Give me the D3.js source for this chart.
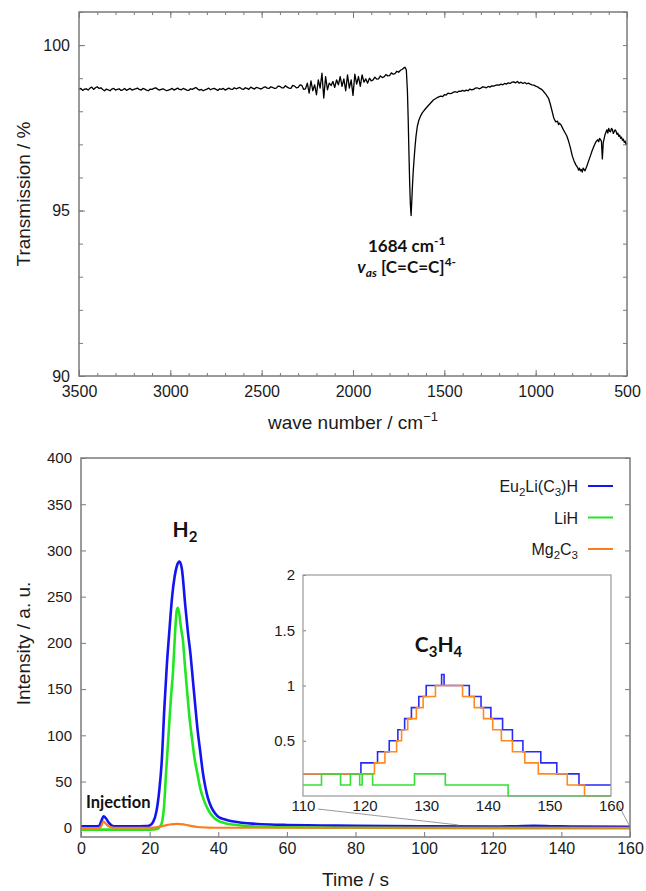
<!DOCTYPE html>
<html><head><meta charset="utf-8">
<script src="https://cdn.jsdelivr.net/npm/d3@7"></script>
<style>body{margin:0;background:#fff}svg{display:block}</style>
</head><body>
<svg id="c" width="646" height="891"></svg>
<script>
// ---------- DATA ----------
// IR spectrum: [wave number (cm-1), transmission (%)]
const irSpectrum = [
[3500,98.66],[3490,98.69],[3480,98.63],[3470,98.67],[3460,98.68],[3450,98.64],[3440,98.70],[3430,98.73],[3420,98.66],[3410,98.71],
[3400,98.74],[3390,98.69],[3380,98.71],[3370,98.66],[3360,98.62],[3350,98.67],[3340,98.65],[3330,98.62],[3320,98.67],[3310,98.69],
[3300,98.64],[3290,98.66],[3280,98.68],[3270,98.63],[3260,98.65],[3250,98.69],[3240,98.63],[3230,98.66],[3220,98.69],[3210,98.64],
[3200,98.66],[3190,98.68],[3180,98.70],[3170,98.66],[3160,98.64],[3150,98.69],[3140,98.67],[3130,98.64],[3120,98.62],[3110,98.67],
[3100,98.66],[3090,98.69],[3080,98.71],[3070,98.67],[3060,98.64],[3050,98.66],[3040,98.68],[3030,98.65],[3020,98.62],[3010,98.64],
[3000,98.66],[2990,98.69],[2980,98.64],[2970,98.67],[2960,98.70],[2950,98.66],[2940,98.65],[2930,98.69],[2920,98.67],[2910,98.64],
[2900,98.63],[2890,98.68],[2880,98.66],[2870,98.69],[2860,98.72],[2850,98.67],[2840,98.64],[2830,98.66],[2820,98.62],[2810,98.65],
[2800,98.67],[2790,98.70],[2780,98.65],[2770,98.68],[2760,98.69],[2750,98.66],[2740,98.63],[2730,98.68],[2720,98.66],[2710,98.69],
[2700,98.64],[2690,98.67],[2680,98.70],[2670,98.67],[2660,98.66],[2650,98.71],[2640,98.68],[2630,98.70],[2620,98.72],[2610,98.68],
[2600,98.66],[2590,98.71],[2580,98.69],[2570,98.66],[2560,98.73],[2550,98.70],[2540,98.67],[2530,98.72],[2520,98.71],[2510,98.68],
[2500,98.68],[2490,98.72],[2480,98.74],[2470,98.70],[2460,98.69],[2450,98.74],[2440,98.72],[2430,98.69],[2420,98.70],[2410,98.76],
[2400,98.75],[2390,98.71],[2380,98.71],[2370,98.77],[2360,98.73],[2350,98.70],[2340,98.69],[2330,98.78],[2320,98.76],[2310,98.71],
[2300,98.72],[2290,98.80],[2280,98.78],[2270,98.66],[2260,98.68],[2250,98.85],[2240,98.55],[2230,98.92],[2220,98.62],[2210,98.80],
[2200,98.50],[2190,98.95],[2180,98.70],[2170,99.15],[2160,98.40],[2150,99.05],[2140,98.65],[2130,98.85],[2120,98.78],[2110,98.90],
[2100,98.72],[2090,98.95],[2080,98.80],[2070,99.05],[2060,98.75],[2050,98.98],[2040,98.62],[2030,99.10],[2020,98.70],[2010,98.95],
[2000,98.48],[1990,99.12],[1980,98.82],[1970,99.05],[1960,98.75],[1950,99.10],[1940,98.88],[1930,98.98],[1920,98.85],[1910,99.00],
[1900,98.92],[1890,98.95],[1880,99.03],[1870,98.97],[1860,98.98],[1850,99.07],[1840,99.02],[1830,99.04],[1820,99.11],[1810,99.07],
[1800,99.08],[1790,99.16],[1780,99.12],[1770,99.14],[1760,99.21],[1750,99.18],[1740,99.24],[1730,99.27],[1722,99.31],[1715,99.33],
[1708,99.25],[1702,98.60],[1698,97.80],[1694,96.80],[1690,95.90],[1686,95.20],[1682,94.85],[1678,95.30],[1674,95.80],[1670,96.20],
[1665,96.60],[1660,96.95],[1655,97.25],[1648,97.54],[1640,97.72],[1630,97.86],[1620,97.96],[1610,98.03],[1595,98.13],[1580,98.22],
[1560,98.34],[1540,98.41],[1520,98.46],[1510,98.44],[1500,98.50],[1490,98.49],[1480,98.55],[1470,98.53],[1460,98.54],[1450,98.58],
[1440,98.59],[1430,98.57],[1420,98.61],[1410,98.60],[1400,98.63],[1390,98.61],[1380,98.64],[1370,98.62],[1360,98.67],[1350,98.65],
[1340,98.66],[1330,98.70],[1320,98.71],[1310,98.68],[1300,98.70],[1290,98.74],[1280,98.73],[1270,98.71],[1260,98.75],[1250,98.73],
[1240,98.77],[1230,98.76],[1220,98.78],[1210,98.80],[1200,98.79],[1190,98.82],[1180,98.80],[1170,98.84],[1160,98.82],[1150,98.86],
[1140,98.84],[1130,98.88],[1120,98.89],[1110,98.86],[1100,98.90],[1090,98.85],[1080,98.88],[1070,98.84],[1060,98.87],[1050,98.83],
[1040,98.85],[1030,98.82],[1020,98.80],[1010,98.79],[1000,98.76],[990,98.74],[980,98.70],[970,98.67],[960,98.62],[945,98.52],
[930,98.40],[920,98.22],[910,98.00],[900,97.78],[890,97.68],[880,97.70],[875,97.60],[870,97.64],[860,97.58],[850,97.46],
[840,97.36],[830,97.26],[820,97.10],[810,96.90],[800,96.66],[790,96.50],[780,96.38],[770,96.30],[765,96.22],[760,96.28],
[755,96.20],[750,96.24],[745,96.16],[740,96.28],[730,96.20],[720,96.34],[710,96.50],[700,96.66],[690,96.82],[680,96.96],
[670,97.08],[660,97.14],[655,97.08],[650,97.18],[640,97.10],[635,96.56],[630,97.05],[620,97.30],[610,97.44],[605,97.34],
[600,97.48],[595,97.40],[590,97.38],[585,97.48],[580,97.45],[575,97.33],[570,97.38],[565,97.44],[560,97.40],[555,97.30],
[550,97.34],[545,97.24],[540,97.28],[535,97.18],[530,97.22],[525,97.12],[520,97.16],[515,97.06],[510,97.10],[505,97.00],[500,97.04]
];
const irXTicks = [3500,3000,2500,2000,1500,1000,500];
const irYTicks = [90,95,100];

// Gas evolution: [time (s), intensity (a.u.)]
const seriesNames = ["Eu2Li(C3)H","LiH","Mg2C3"];
const eu2liH = [[0,1.5],[4,1.5],[5.3,2],[6,8],[6.6,12.5],[7.3,10],[8.2,5],[9.2,2],[10,1.5],[15,1.5],[19,1.8],[20,2.5],[21,6],[22,18],
[22.8,40],[23.5,70],[24.3,130],[25,175],[25.8,215],[26.5,248],[27.3,272],[28,284],[28.7,288],[29.4,280],[30.4,240],[31.2,210],
[31.9,188],[32.6,160],[33.3,132],[34,105],[34.8,81],[35.5,60],[36.3,43],[37,32],[38,22],[39,16],[40,12],[42,9],[44,7],[47,5.5],
[50,4.5],[55,3.5],[60,3],[70,2.5],[80,2],[100,1.5],[120,1.3],[127,1.6],[132,2],[137,1.7],[145,1.2],[160,1]];
const liH = [[0,-2],[20,-2],[22,-1.5],[23,1],[23.6,6],[24.2,23],[24.8,60],[25.5,100],[26.2,140],[26.8,168],[27.4,210],[27.9,235],
[28.2,238],[28.6,232],[29.2,215],[29.7,203],[30.3,175],[30.9,149],[31.6,120],[32.4,95],[33.1,75],[33.9,59],[34.8,42],[36,28],
[37,20],[38,14],[39,10],[40,7.5],[42,5],[44,3.5],[47,2.5],[50,1.5],[60,0.5],[80,0],[100,-0.3],[160,-0.5]];
const mg2C3 = [[0,-0.5],[5,-0.5],[5.8,1],[6.5,7],[7.3,4],[8.3,1],[9.5,0],[20,0],[22,0.5],[24,2],[26,3.5],[28,4.3],[30,3.5],
[32,2],[34,0.8],[37,0.2],[40,0],[160,0]];
const mainXTicks = [0,20,40,60,80,100,120,140,160];
const mainYTicks = [0,50,100,150,200,250,300,350,400];

// Inset (C3H4 signal), step data: [time (s), intensity]
const insetEu = [[110,0.2],[119.4,0.3],[122.1,0.4],[124.0,0.5],[125.4,0.6],[126.5,0.7],[127.6,0.8],[128.8,0.9],[130.0,1.0],
[132.5,1.1],[132.9,1.0],[137.0,0.9],[138.9,0.8],[140.5,0.7],[142.4,0.6],[144.0,0.5],[145.7,0.4],[148.6,0.3],[151.2,0.2],[154.8,0.1],[160,0.1]];
const insetMg = [[110,0.2],[121.6,0.3],[123.3,0.4],[125.2,0.5],[126.0,0.6],[127.0,0.7],[128.4,0.8],[129.5,0.9],[131.5,1.0],
[135.9,0.9],[137.8,0.8],[139.3,0.7],[140.8,0.6],[142.2,0.5],[144.0,0.4],[146.0,0.3],[148.2,0.2],[152.9,0.1],[155.7,0],[160,0]];
const insetLi = [[110,0.1],[113.0,0.2],[116.1,0.1],[117.7,0.2],[119.2,0.1],[119.6,0.2],[121.3,0.1],[128.1,0.2],[133.1,0.1],[143.3,0],[160,0]];
const insetXTicks = [110,120,130,140,150,160];
const insetYTicks = [0.5,1,1.5,2];

// ---------- DRAW ----------
(function () {
const svg = d3.select("#c");
const FONT = "'Liberation Sans', Arial, Helvetica, sans-serif";
const BOLD = "Lato, 'Open Sans', sans-serif";
const FRAME = "#7a7a7a";
const TXT = "#1a1a1a";
const BLUE = "#1414f0", GREEN = "#22e622", ORANGE = "#ff7a1a";

function styleAxis(g, size) {
  g.select(".domain").remove();
  g.selectAll(".tick line").attr("stroke", FRAME).attr("stroke-width", 1);
  g.selectAll("text").attr("font-family", FONT).attr("font-size", size).attr("fill", TXT);
}

// ===== Top chart: IR =====
const tx = d3.scaleLinear([3500, 500], [79, 627]);
const ty = d3.scaleLinear([90, 101], [376, 12]);
const topG = svg.append("g");

topG.append("g").attr("transform", `translate(0,${ty(90)})`)
  .call(d3.axisBottom(tx).tickValues(d3.range(3500, 499, -100)).tickSizeInner(-3).tickSizeOuter(0).tickFormat(""))
  .call(g => styleAxis(g, 16));
topG.append("g").attr("transform", `translate(0,${ty(101)})`)
  .call(d3.axisTop(tx).tickValues(d3.range(3500, 499, -100)).tickSizeInner(-3).tickSizeOuter(0).tickFormat(""))
  .call(g => styleAxis(g, 16));
topG.append("g").attr("transform", `translate(0,${ty(90)})`)
  .call(d3.axisBottom(tx).tickValues(irXTicks).tickSizeInner(-6).tickSizeOuter(0).tickPadding(10).tickFormat(d3.format("d")))
  .call(g => styleAxis(g, 16));
topG.append("g").attr("transform", `translate(0,${ty(101)})`)
  .call(d3.axisTop(tx).tickValues(irXTicks).tickSizeInner(-6).tickSizeOuter(0).tickFormat(""))
  .call(g => styleAxis(g, 16));
topG.append("g").attr("transform", `translate(${tx(3500)},0)`)
  .call(d3.axisLeft(ty).tickValues(d3.range(90, 102, 1)).tickSizeInner(-4).tickSizeOuter(0).tickFormat(""))
  .call(g => styleAxis(g, 16));
topG.append("g").attr("transform", `translate(${tx(500)},0)`)
  .call(d3.axisRight(ty).tickValues(d3.range(90, 102, 1)).tickSizeInner(-4).tickSizeOuter(0).tickFormat(""))
  .call(g => styleAxis(g, 16));
topG.append("g").attr("transform", `translate(${tx(3500)},0)`)
  .call(d3.axisLeft(ty).tickValues(irYTicks).tickSizeInner(-6).tickSizeOuter(0).tickPadding(9).tickFormat(d3.format("d")))
  .call(g => styleAxis(g, 16));

topG.append("path").datum(irSpectrum)
  .attr("fill", "none").attr("stroke", "#000").attr("stroke-width", 1.3).attr("stroke-linejoin", "round")
  .attr("d", d3.line().x(d => tx(d[0])).y(d => ty(d[1])));

topG.append("rect").attr("x", tx(3500)).attr("y", ty(101)).attr("width", tx(500) - tx(3500)).attr("height", ty(90) - ty(101))
  .attr("fill", "none").attr("stroke", FRAME).attr("stroke-width", 1.5);

topG.append("text").attr("transform", `translate(30,${(ty(90) + ty(101)) / 2}) rotate(-90)`)
  .attr("text-anchor", "middle").attr("font-family", FONT).attr("font-size", 19).attr("fill", TXT)
  .text("Transmission / %");
const wn = topG.append("text").attr("x", (tx(3500) + tx(500)) / 2).attr("y", 429).attr("text-anchor", "middle")
  .attr("font-family", FONT).attr("font-size", 19).attr("fill", TXT);
wn.append("tspan").text("wave number / cm");
wn.append("tspan").attr("dy", -8).attr("font-size", 13).text("\u22121");

const a1 = topG.append("text").attr("x", tx(1684) - 4).attr("y", 252).attr("text-anchor", "middle")
  .attr("font-family", BOLD).attr("font-weight", 700).attr("font-size", 17).attr("fill", "#111");
a1.append("tspan").text("1684 cm");
a1.append("tspan").attr("dy", -7).attr("font-size", 12).text("-1");
const a2 = topG.append("text").attr("x", tx(1684) - 4).attr("y", 273).attr("text-anchor", "middle")
  .attr("font-family", BOLD).attr("font-weight", 700).attr("font-size", 17).attr("fill", "#111");
a2.append("tspan").attr("font-style", "italic").text("v");
a2.append("tspan").attr("font-style", "italic").attr("dy", 4).attr("font-size", 12).text("as");
a2.append("tspan").attr("dy", -4).text(" [C=C=C]");
a2.append("tspan").attr("dy", -7).attr("font-size", 12).text("4-");

// ===== Bottom chart =====
const bx = d3.scaleLinear([0, 160], [81, 630]);
const by = d3.scaleLinear([-10, 400], [837, 458]);
const bot = svg.append("g");

bot.append("g").attr("transform", `translate(0,${by(-10)})`)
  .call(d3.axisBottom(bx).tickValues(mainXTicks).tickSizeInner(-5).tickSizeOuter(0).tickPadding(6).tickFormat(d3.format("d")))
  .call(g => styleAxis(g, 16));
bot.append("g").attr("transform", `translate(${bx(0)},0)`)
  .call(d3.axisLeft(by).tickValues(mainYTicks).tickSizeInner(-5).tickSizeOuter(0).tickPadding(9).tickFormat(d3.format("d")))
  .call(g => styleAxis(g, 15));
bot.append("g").attr("transform", `translate(${bx(160)},0)`)
  .call(d3.axisRight(by).tickValues(mainYTicks).tickSizeInner(-5).tickSizeOuter(0).tickFormat(""))
  .call(g => styleAxis(g, 15));

const mline = d3.line().x(d => bx(d[0])).y(d => by(d[1])).curve(d3.curveMonotoneX);
const mainSeries = [[eu2liH, BLUE, 2.6], [liH, GREEN, 2.6], [mg2C3, ORANGE, 2.2]];
mainSeries.forEach(([data, col, w]) => {
  bot.append("path").datum(data).attr("fill", "none").attr("stroke", col).attr("stroke-width", w)
    .attr("stroke-linejoin", "round").attr("d", mline);
});

bot.append("rect").attr("x", bx(0)).attr("y", by(400)).attr("width", bx(160) - bx(0)).attr("height", by(-10) - by(400))
  .attr("fill", "none").attr("stroke", FRAME).attr("stroke-width", 1.5);

bot.append("text").attr("transform", `translate(30,${(by(-10) + by(400)) / 2 - 4}) rotate(-90)`)
  .attr("text-anchor", "middle").attr("font-family", FONT).attr("font-size", 19).attr("fill", TXT)
  .text("Intensity / a. u.");
bot.append("text").attr("x", (bx(0) + bx(160)) / 2).attr("y", 886).attr("text-anchor", "middle")
  .attr("font-family", FONT).attr("font-size", 19).attr("fill", TXT).text("Time / s");

const h2 = bot.append("text").attr("x", bx(29) - 8).attr("y", 537).attr("font-family", BOLD)
  .attr("font-weight", 700).attr("font-size", 21).attr("fill", "#111");
h2.append("tspan").text("H");
h2.append("tspan").attr("dy", 5).attr("font-size", 15).text("2");
bot.append("text").attr("x", 86).attr("y", 808).attr("font-family", BOLD).attr("font-weight", 700)
  .attr("font-size", 16.5).attr("fill", "#111").text("Injection");

const legendRows = [
  {parts: [["Eu",0],["2",1],["Li(C",0],["3",1],[")H",0]], col: BLUE},
  {parts: [["LiH",0]], col: GREEN},
  {parts: [["Mg",0],["2",1],["C",0],["3",1]], col: ORANGE}
];
legendRows.forEach((r, i) => {
  const yy = 486 + i * 31.5;
  const t = bot.append("text").attr("x", 578).attr("y", yy + 6).attr("text-anchor", "end")
    .attr("font-family", FONT).attr("font-size", 16).attr("fill", TXT);
  let shift = 0;
  r.parts.forEach(([s, sub]) => {
    const want = sub ? 4 : 0;
    t.append("tspan").attr("dy", want - shift).attr("font-size", sub ? 11.5 : 16).text(s);
    shift = want;
  });
  bot.append("line").attr("x1", 588).attr("x2", 613).attr("y1", yy).attr("y2", yy)
    .attr("stroke", r.col).attr("stroke-width", 2);
});

// ===== Inset =====
const ix = d3.scaleLinear([110, 160], [303, 611]);
const iy = d3.scaleLinear([0, 2], [796, 575]);
const ins = svg.append("g");

ins.append("line").attr("x1", ix(112.4)).attr("y1", iy(0) + 13).attr("x2", bx(110)).attr("y2", by(3))
  .attr("stroke", "#9a9a9a").attr("stroke-width", 1);
ins.append("line").attr("x1", ix(160) + 6).attr("y1", iy(0) + 6).attr("x2", bx(160) - 1).attr("y2", by(3))
  .attr("stroke", "#9a9a9a").attr("stroke-width", 1);

ins.append("rect").attr("x", ix(110)).attr("y", iy(2)).attr("width", ix(160) - ix(110)).attr("height", iy(0) - iy(2))
  .attr("fill", "#fff");
ins.append("g").attr("transform", `translate(0,${iy(0)})`)
  .call(d3.axisBottom(ix).tickValues(insetXTicks).tickSizeInner(0).tickSizeOuter(0).tickPadding(4).tickFormat(d3.format("d")))
  .call(g => styleAxis(g, 15));
ins.append("g").attr("transform", `translate(${ix(110)},0)`)
  .call(d3.axisLeft(iy).tickValues(insetYTicks).tickSizeInner(-3).tickSizeOuter(0).tickPadding(8).tickFormat(d3.format("")))
  .call(g => styleAxis(g, 15));

ins.append("clipPath").attr("id", "iclip").append("rect")
  .attr("x", ix(110)).attr("y", iy(2)).attr("width", ix(160) - ix(110)).attr("height", iy(0) - iy(2) + 1);
const iline = d3.line().x(d => ix(d[0])).y(d => iy(d[1])).curve(d3.curveStepAfter);
const insetSeries = [[insetEu, "#2a2af5"], [insetMg, "#ff8a1f"], [insetLi, "#33e033"]];
const ig = ins.append("g").attr("clip-path", "url(#iclip)");
insetSeries.forEach(([data, col]) => {
  ig.append("path").datum(data).attr("fill", "none").attr("stroke", col).attr("stroke-width", 1.6).attr("d", iline);
});
ins.append("rect").attr("x", ix(110)).attr("y", iy(2)).attr("width", ix(160) - ix(110)).attr("height", iy(0) - iy(2))
  .attr("fill", "none").attr("stroke", "#999").attr("stroke-width", 1.2);

const c3 = ins.append("text").attr("x", ix(132)).attr("y", 652).attr("text-anchor", "middle").attr("font-family", BOLD)
  .attr("font-weight", 700).attr("font-size", 21).attr("fill", "#111");
c3.append("tspan").text("C");
c3.append("tspan").attr("dy", 5).attr("font-size", 15).text("3");
c3.append("tspan").attr("dy", -5).text("H");
c3.append("tspan").attr("dy", 5).attr("font-size", 15).text("4");
})();
</script>
</body></html>
